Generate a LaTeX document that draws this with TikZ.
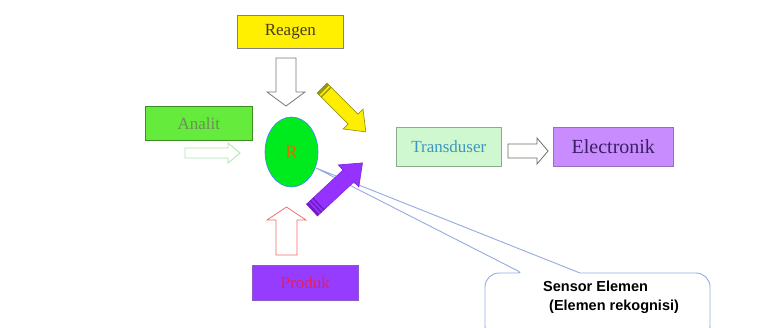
\documentclass[tikz,border=0pt]{standalone}
\usepackage{fontspec}
\setmainfont{Liberation Serif}
\newfontfamily\arialf{Liberation Sans}
\definecolor{reagenfill}{RGB}{255,240,0}
\definecolor{reagentext}{RGB}{70,60,40}
\definecolor{analitfill}{RGB}{100,235,60}
\definecolor{analittext}{RGB}{110,140,90}
\definecolor{transfill}{RGB}{208,248,208}
\definecolor{transdraw}{RGB}{140,170,140}
\definecolor{transtext}{RGB}{60,150,190}
\definecolor{elecfill}{RGB}{200,140,255}
\definecolor{elecdraw}{RGB}{150,110,190}
\definecolor{electext}{RGB}{60,30,100}
\definecolor{produkfill}{RGB}{150,60,255}
\definecolor{produkdraw}{RGB}{140,90,200}
\definecolor{produktext}{RGB}{230,30,90}
\definecolor{rblue}{RGB}{70,130,255}
\definecolor{rgreen}{RGB}{0,235,30}
\definecolor{rorange}{RGB}{220,110,0}
\definecolor{callblue}{RGB}{150,170,225}
\definecolor{arrgray}{RGB}{120,120,120}
\definecolor{arrred}{RGB}{240,110,110}
\definecolor{arrlgreen}{RGB}{170,230,170}
\definecolor{arrdark}{RGB}{110,110,100}
\definecolor{yelfill}{RGB}{255,238,0}
\definecolor{yeldraw}{RGB}{150,150,30}
\definecolor{purfill}{RGB}{150,50,255}
\definecolor{purdraw}{RGB}{130,40,220}
\definecolor{purdark}{RGB}{110,30,190}
\begin{document}
\begin{tikzpicture}[x=1pt,y=-1pt,
  box/.style={line width=0.6pt, inner sep=0pt, anchor=north west},
  hollow/.style={line width=0.8pt, fill=white, line join=miter},
  lbl/.style={font=\fontsize{17}{17}\selectfont}]
\useasboundingbox (0,0) rectangle (757,327);
\fill[white] (0,0) rectangle (757,327);

% boxes
\node[box, draw=gray, fill=reagenfill, minimum width=106pt, minimum height=33pt, lbl, text=reagentext] (reagen) at (237,15) {Reagen};
\node[box, draw=analitfill!60!black, fill=analitfill, minimum width=107pt, minimum height=34pt, lbl, text=analittext] (analit) at (145,106) {Analit};
\node[box, draw=transdraw, fill=transfill, minimum width=105pt, minimum height=39pt, lbl, text=transtext] (trans) at (396,127) {Transduser};
\node[box, draw=elecdraw, fill=elecfill, minimum width=120pt, minimum height=39pt, font=\fontsize{20}{20}\selectfont, text=electext] (elec) at (553,127) {Electronik};
\node[box, draw=produkdraw, fill=produkfill, minimum width=106pt, minimum height=35pt, lbl, text=produktext] (produk) at (252,265) {Produk};

% R ellipse
\draw[draw=rblue, line width=0.6pt, fill=rgreen] (291.5,152) ellipse [x radius=26.5, y radius=35];
\node[font=\fontsize{19}{19}\selectfont, text=rorange] (R) at (291.5,152) {R};

% callout
\coordinate (tip) at (316,168);
\draw[draw=callblue, line width=0.9pt, fill=white, rounded corners=4pt]
  (522,273) [sharp corners] -- (tip) -- (580,273) [rounded corners=14pt] -- (710,273) -- (710,340) -- (485,340) -- (485,273) [rounded corners=4pt] -- cycle;
\node[font=\arialf\bfseries\fontsize{14.5}{20}\selectfont, align=left, anchor=north west, inner sep=0pt] (sensor) at (543,281) {Sensor Elemen\\[-1pt]\hspace*{6pt}(Elemen rekognisi)};

% hollow down arrow (Reagen)
\draw[hollow, draw=arrgray] (276,58) -- (296,58) -- (296,92) -- (305,92) -- (286,106) -- (267,92) -- (276,92) -- cycle;
% red up arrow (Produk)
\draw[hollow, draw=arrred] (276,255) -- (297,255) -- (297,220) -- (306,220) -- (286.5,207) -- (267,220) -- (276,220) -- cycle;
% light green right arrow (Analit)
\draw[hollow, draw=arrlgreen] (185,148) -- (228,148) -- (228,143) -- (240,153) -- (228,163) -- (228,158) -- (185,158) -- cycle;
% transduser -> electronik
\draw[hollow, draw=arrdark] (508,144) -- (537,144) -- (537,138) -- (548,151) -- (537,164) -- (537,158) -- (508,158) -- cycle;

% yellow diagonal arrow
\begin{scope}[shift={(322,88)}, rotate=-45]
\draw[fill=yelfill, draw=yeldraw, line width=0.7pt, line join=miter]
  (0,-7) -- (44,-7) -- (44,-14) -- (62,0) -- (44,14) -- (44,7) -- (0,7) -- cycle;
\fill[yeldraw] (0,-7) rectangle (3,7);
\fill[yeldraw] (5,-7) rectangle (6.5,7);
\end{scope}

% purple diagonal arrow
\begin{scope}[shift={(312,210)}, rotate=43]
\draw[fill=purfill, draw=purdraw, line width=0.7pt, line join=miter]
  (0,-8) -- (50,-8) -- (50,-15) -- (69,0) -- (50,15) -- (50,8) -- (0,8) -- cycle;
\fill[purdark] (0,-8) rectangle (2.5,8);
\fill[purdark] (4.5,-8) rectangle (6,8);
\fill[purdark] (8,-8) rectangle (9.5,8);
\end{scope}
\end{tikzpicture}
\end{document}
